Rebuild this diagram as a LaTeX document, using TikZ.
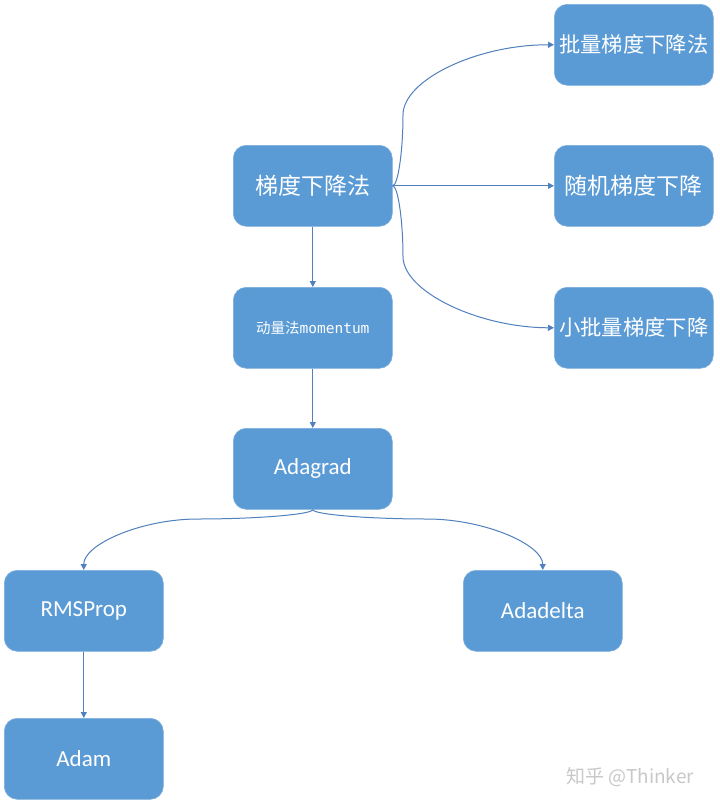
\documentclass[tikz,border=0pt]{standalone}
\usepackage{fontspec}
\setmainfont{Carlito}
\newfontfamily\cjk{Noto Sans CJK SC}
\newfontfamily\monofam{DejaVu Sans Mono}
\usetikzlibrary{arrows.meta,calc}
\definecolor{boxfill}{HTML}{5B9BD5}
\definecolor{edgecol}{HTML}{5080BE}
\definecolor{wmcol}{HTML}{C8C8C8}
\tikzset{
  box/.style={draw=boxfill!80!white, line width=0.6pt, fill=boxfill, rounded corners=13pt,
    minimum width=159pt, minimum height=81pt, inner sep=0pt, text=white, anchor=north west,
    font=\fontsize{23}{26}\selectfont},
  wide/.style={font=\cjk\fontsize{21.3}{24}\selectfont},
  cjkbox/.style={font=\cjk\fontsize{23}{26}\selectfont},
  conn/.style={draw=edgecol, line width=1pt, -{Triangle[length=6pt,width=6pt]}},
}
\begin{document}
\begin{tikzpicture}[x=1pt,y=-1pt]
\useasboundingbox (0,0) rectangle (720,807);
\fill[white] (0,0) rectangle (720,807);
\node[box, cjkbox] (gd) at (233,145) {梯度下降法};
\node[box, wide] (bgd) at (554,4) {批量梯度下降法};
\node[box, cjkbox] (sgd) at (554,145) {随机梯度下降};
\node[box, wide] (mbgd) at (554,287) {小批量梯度下降};
\node[box, font=\fontsize{14.5}{17}\selectfont] (mom) at (233,287) {{\cjk 动量法}{\monofam momentum}};
\node[box] (ada) at (233,428) {\raisebox{-2pt}{Adagrad}};
\node[box] (rms) at (4,570) {\raisebox{-2pt}{RMSProp}};
\node[box] (adad) at (463,570) {\raisebox{-2pt}{Adadelta}};
\node[box] (adam) at (4,718) {\raisebox{-2pt}{Adam}};
\node[text=wmcol, font=\cjk\fontsize{19}{22}\selectfont, anchor=center] (wm) at (630,777) {知乎 @Thinker};
% connectors
\draw[conn] (gd.east) -- (sgd.west);
\draw[conn] (gd.east) .. controls ($(gd.east)+(5.5,0)$) and (403,150.5) .. (403,115)
   .. controls (403,79.5) and (478,44.5) .. (bgd.west);
\draw[conn] (gd.east) .. controls ($(gd.east)+(5.5,0)$) and (403,221.5) .. (403,256.5)
   .. controls (403,291.5) and (478,327.5) .. (mbgd.west);
\draw[conn] (gd.south) -- (mom.north);
\draw[conn] (mom.south) -- (ada.north);
\draw[conn] (ada.south) .. controls (312.5,514.5) and (370,519) .. (427,519)
   .. controls (484.5,519) and (542.5,544.5) .. (adad.north);
\draw[conn] (ada.south) .. controls (312.5,514.5) and (255,519) .. (198,519)
   .. controls (141,519) and (83.5,544.5) .. (rms.north);
\draw[conn] (rms.south) -- (adam.north);
\end{tikzpicture}
\end{document}
